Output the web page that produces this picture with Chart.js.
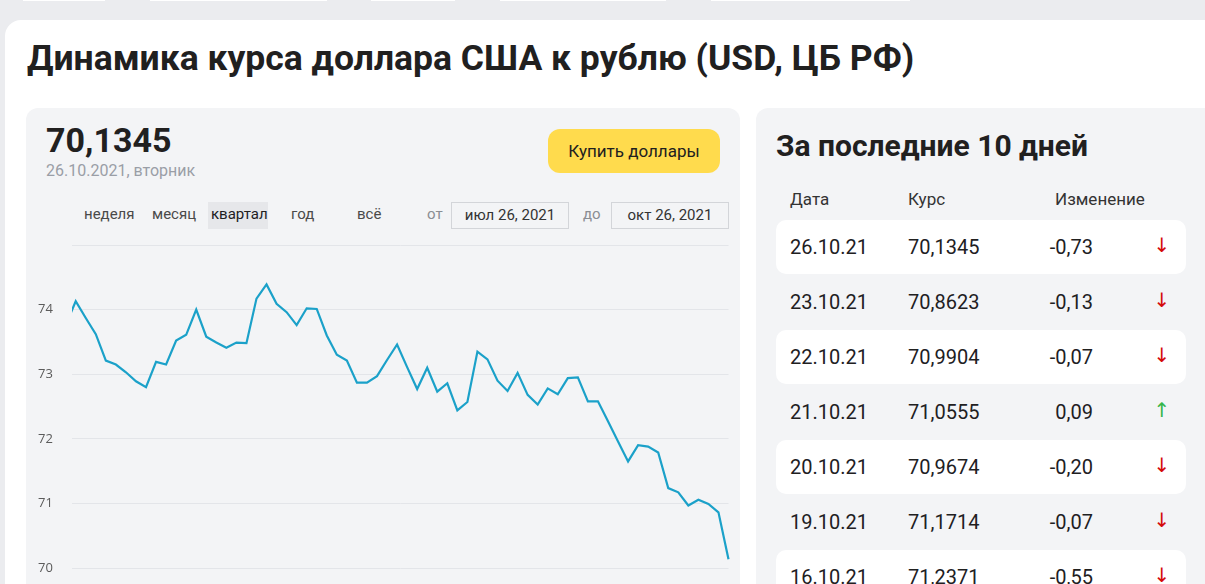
<!DOCTYPE html>
<html lang="ru">
<head>
<meta charset="utf-8">
<script src="https://cdn.jsdelivr.net/npm/chart.js@4.4.0/dist/chart.umd.min.js"></script>
<style>
  body { margin: 0; width: 1205px; height: 584px; overflow: hidden; background: #ebecef; font-family: Roboto, "Noto Sans", sans-serif; color: #21201f; position: relative; }
  .abs { position: absolute; white-space: nowrap; }
  .tab { position: absolute; top: 0; height: 1px; background: #fff; }
  .card { left: 5px; top: 20px; width: 1260px; height: 700px; background: #fff; border-radius: 16px 0 0 0; }
  .panel { background: #f3f4f6; border-radius: 12px; }
  h1 { margin: 0; left: 27px; top: 38px; font-size: 35.5px; line-height: 40px; font-weight: 700; }
  .rate { left: 46px; top: 120px; font-size: 34px; line-height: 40px; font-weight: 700; }
  .date { left: 46px; top: 161px; font-size: 16px; line-height: 20px; color: #9a9ea6; }
  .btn { left: 548px; top: 129px; width: 172px; height: 44px; border-radius: 12px; background: #ffdb4d; font-size: 17px; line-height: 44px; text-align: center; }
  .per { top: 204px; font-size: 15px; line-height: 20px; color: #4a4a4a; }
  .sel { left: 208px; top: 202px; width: 60px; height: 27px; background: #e6e7ea; }
  .inp { top: 202px; width: 116px; height: 25px; border: 1px solid #d3d5d9; font-size: 15px; line-height: 25px; text-align: center; color: #333; }
  .h2 { left: 776px; top: 128px; font-size: 30px; line-height: 36px; font-weight: 700; }
  .th { top: 189px; font-size: 17px; line-height: 20px; color: #333; }
  .row { left: 776px; width: 410px; height: 54px; background: #fff; border-radius: 10px; }
  .td { font-size: 20px; line-height: 24px; }
  .arrow { font-family: "DejaVu Sans"; font-size: 20px; width: 24px; text-align: center; }
  .up { color: #35b54a; }
  .down { color: #d40b0b; }
  #chartBox { position: absolute; left: 26px; top: 235px; width: 715px; height: 360px; }
</style>
</head>
<body>
<div class="tab" style="left:23px;width:82px"></div>
<div class="tab" style="left:150px;width:177px"></div>
<div class="tab" style="left:371px;width:84px"></div>
<div class="tab" style="left:500px;width:166px"></div>
<div class="tab" style="left:711px;width:199px"></div>
<div class="abs card"></div>

<h1 class="abs">Динамика курса доллара США к рублю (USD, ЦБ РФ)</h1>

<div class="abs panel" style="left:26px;top:108px;width:714px;height:520px"></div>
<div class="abs rate">70,1345</div>
<div class="abs date">26.10.2021, вторник</div>
<div class="abs btn">Купить доллары</div>

<div class="abs sel"></div>
<div class="abs per" style="left:84px">неделя</div>
<div class="abs per" style="left:152px">месяц</div>
<div class="abs per" style="left:211px;color:#21201f">квартал</div>
<div class="abs per" style="left:291px">год</div>
<div class="abs per" style="left:357px">всё</div>
<div class="abs per" style="left:427px;color:#8a8d93">от</div>
<div class="abs inp" style="left:451px">июл 26, 2021</div>
<div class="abs per" style="left:583px;color:#8a8d93">до</div>
<div class="abs inp" style="left:611px">окт 26, 2021</div>

<div id="chartBox"><canvas id="grafica"></canvas></div>

<div class="abs panel" style="left:756px;top:108px;width:480px;height:520px"></div>
<div class="abs h2">За последние 10 дней</div>
<div class="abs th" style="left:790px">Дата</div>
<div class="abs th" style="left:908px">Курс</div>
<div class="abs th" style="left:1055px">Изменение</div>
<div id="tabla"></div>

<script>
// курс ЦБ, от 24.07.2021 до 26.10.2021 (первая точка обрезана краем графика)
const kurs = [73.76, 74.13, 73.87, 73.62, 73.21, 73.15, 73.03, 72.89, 72.80, 73.19,
  73.15, 73.52, 73.61, 74.00, 73.58, 73.49, 73.41, 73.49, 73.48, 74.17,
  74.39, 74.09, 73.96, 73.76, 74.02, 74.01, 73.60, 73.30, 73.21, 72.87,
  72.87, 72.97, 73.22, 73.46, 73.11, 72.77, 73.10, 72.73, 72.86, 72.44,
  72.57, 73.35, 73.23, 72.90, 72.74, 73.02, 72.68, 72.53, 72.78, 72.69,
  72.94, 72.95, 72.58, 72.58, 72.27, 71.96, 71.65, 71.90, 71.88, 71.787,
  71.2371, 71.1714, 70.9674, 71.0555, 70.9904, 70.8623, 70.1345];

const yTicks = [70, 71, 72, 73, 74, 75];

// таблица за последние дни
const fechas = ["26.10.21", "23.10.21", "22.10.21", "21.10.21", "20.10.21", "19.10.21", "16.10.21"];
const cursos = ["70,1345", "70,8623", "70,9904", "71,0555", "70,9674", "71,1714", "71,2371"];
const cambios = ["-0,73", "-0,13", "-0,07", "0,09", "-0,20", "-0,07", "-0,55"];

const tabla = document.querySelector("#tabla");
fechas.forEach((f, i) => {
  const top = 220 + i * 55;
  const sube = !cambios[i].startsWith("-");
  let html = "";
  if (i % 2 === 0) html += `<div class="abs row" style="top:${top}px"></div>`;
  html += `<div class="abs td" style="left:790px;top:${top + 15}px">${f}</div>`;
  html += `<div class="abs td" style="left:908px;top:${top + 15}px">${cursos[i]}</div>`;
  html += `<div class="abs td" style="left:1000px;width:93px;text-align:right;top:${top + 15}px">${cambios[i]}</div>`;
  html += `<div class="abs td arrow ${sube ? "up" : "down"}" style="left:1150px;top:${top + 13}px">${sube ? "↑" : "↓"}</div>`;
  tabla.innerHTML += html;
});

const puntos = kurs.map((v, i) => ({ x: i, y: v }));

const config = {
  type: "line",
  data: {
    datasets: [{
      data: puntos,
      borderColor: "#1ba1c9",
      borderWidth: 2.2,
      pointRadius: 0,
      tension: 0,
      fill: false,
      clip: { left: 0, right: 3, top: 3, bottom: 3 }
    }]
  },
  options: {
    animation: false,
    responsive: true,
    maintainAspectRatio: false,
    layout: { padding: { left: 12, right: 12.5, top: 10, bottom: 27 } },
    plugins: { legend: { display: false }, tooltip: { enabled: false } },
    scales: {
      x: { type: "linear", min: 0.63, max: kurs.length - 1, display: false },
      y: {
        min: yTicks[0],
        max: yTicks[yTicks.length - 1],
        afterFit: (scale) => { scale.width = 34; },
        afterBuildTicks: (scale) => { scale.ticks = yTicks.map(v => ({ value: v })); },
        border: { display: false },
        grid: { color: "#e3e5e9", drawTicks: false, lineWidth: 1 },
        ticks: {
          crossAlign: "far",
          padding: 0,
          color: "#5b5b5b",
          font: { family: "Open Sans", size: 13 },
          callback: (v) => v === 75 ? "" : v
        }
      }
    }
  }
};

window.grafica = new Chart(document.getElementById("grafica"), config);
</script>
</body>
</html>
